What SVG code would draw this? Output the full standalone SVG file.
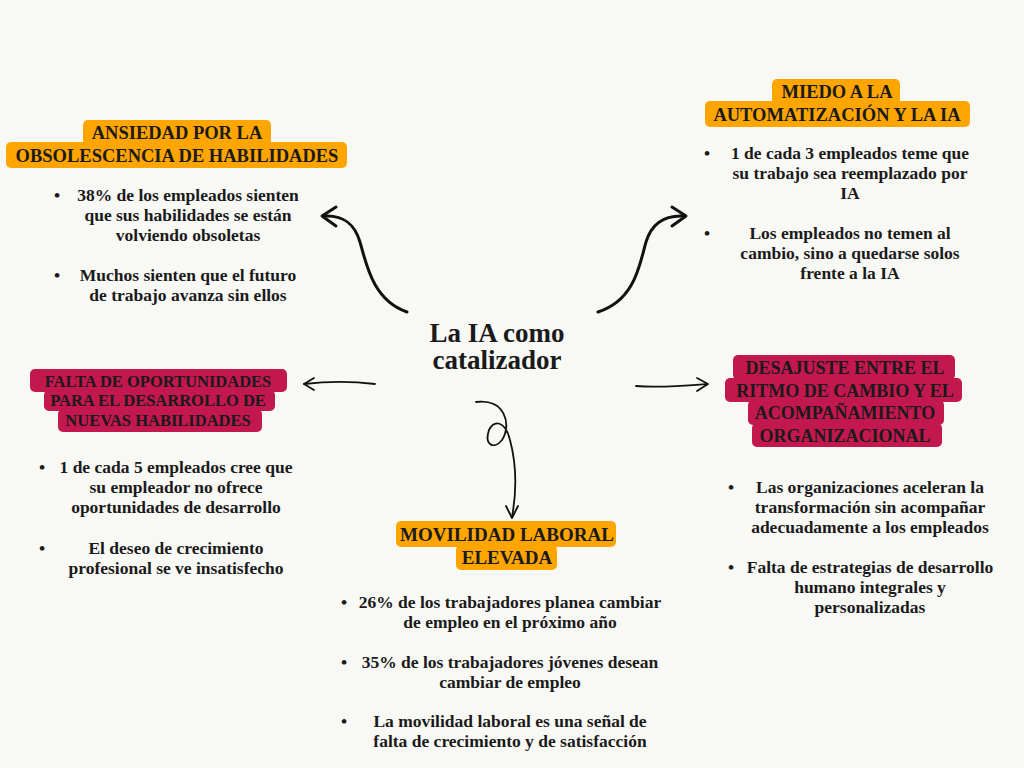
<svg xmlns="http://www.w3.org/2000/svg" width="1024" height="768" viewBox="0 0 1024 768">
<style>
.t{font-family:"Liberation Serif","DejaVu Serif",serif;font-weight:bold;fill:#1a1a1a;text-anchor:middle}
.b{font-size:17.5px}
.h{font-size:18.5px}
.o{fill:#FFA500}
.r{fill:#C2184F}
.c{fill:none;stroke:#111;stroke-width:3;stroke-linecap:round;stroke-linejoin:round}
.c2{fill:none;stroke:#111;stroke-width:1.8;stroke-linecap:round;stroke-linejoin:round}
</style>
<rect width="1024" height="768" fill="#F8F8F5"/>
<g id="connectors">
<path class="c" d="M407,312 C372,300 366,262 360,242 C354,222 342,215 324,216"/>
<path class="c" d="M336,207 L322,216 L336,226"/>
<path class="c" d="M598,312 C636,300 640,262 646,242 C652,222 666,215 684,216"/>
<path class="c" d="M672,207 L686,216 L672,226"/>
<path class="c2" d="M375,384 C350,381 330,381 304,384"/>
<path class="c2" d="M314,378 L304,384 L314,390"/>
<path class="c2" d="M636,386 C660,388 682,386 707,384"/>
<path class="c2" d="M697,378 L708,384 L697,391"/>
<path class="c2" d="M476,402 C505,398 512,425 502,440 C494,450 484,445 489,430 C494,420 505,420 510,440 C518,470 516,495 512,517"/>
<path class="c2" d="M506,506 L512,518 L518,506"/>
</g>
<g id="center"><text class="t" x="497" y="342" font-size="27">La IA como</text><text class="t" x="497" y="369" font-size="27">catalizador</text></g>
<g id="ansiedad">
<rect class="o" x="83" y="120" width="188" height="25" rx="5"/><rect class="o" x="6" y="142" width="341" height="26" rx="5"/>
<text class="t h" x="177" y="139">ANSIEDAD POR LA</text><text class="t h" x="177" y="162">OBSOLESCENCIA DE HABILIDADES</text>
<g class="t b"><text x="57" y="201">•</text><text x="188" y="201">38% de los empleados sienten</text><text x="188" y="221">que sus habilidades se están</text><text x="188" y="241">volviendo obsoletas</text>
<text x="57" y="281">•</text><text x="188" y="281">Muchos sienten que el futuro</text><text x="188" y="301">de trabajo avanza sin ellos</text></g>
</g>
<g id="miedo">
<rect class="o" x="772" y="79" width="128" height="25" rx="5"/><rect class="o" x="705" y="101" width="265" height="26" rx="5"/>
<text class="t h" x="837" y="98">MIEDO A LA</text><text class="t h" x="837" y="121">AUTOMATIZACIÓN Y LA IA</text>
<g class="t b"><text x="707" y="159">•</text><text x="850" y="159">1 de cada 3 empleados teme que</text><text x="850" y="179">su trabajo sea reemplazado por</text><text x="850" y="199">IA</text>
<text x="707" y="239">•</text><text x="850" y="239">Los empleados no temen al</text><text x="850" y="259">cambio, sino a quedarse solos</text><text x="850" y="279">frente a la IA</text></g>
</g>
<g id="falta">
<rect class="r" x="30" y="369" width="257" height="23" rx="5"/><rect class="r" x="44" y="390" width="231" height="21" rx="5"/><rect class="r" x="58" y="409" width="204" height="23" rx="5"/>
<text class="t" font-size="16.5" x="158" y="387">FALTA DE OPORTUNIDADES</text><text class="t" font-size="16.5" x="158" y="406">PARA EL DESARROLLO DE</text><text class="t" font-size="16.5" x="158" y="426">NUEVAS HABILIDADES</text>
<g class="t b"><text x="42" y="473">•</text><text x="176" y="473">1 de cada 5 empleados cree que</text><text x="176" y="493">su empleador no ofrece</text><text x="176" y="513">oportunidades de desarrollo</text>
<text x="42" y="554">•</text><text x="176" y="554">El deseo de crecimiento</text><text x="176" y="574">profesional se ve insatisfecho</text></g>
</g>
<g id="desajuste">
<rect class="r" x="733" y="355" width="222" height="25" rx="5"/><rect class="r" x="725" y="378" width="237" height="24" rx="5"/><rect class="r" x="748" y="400" width="196" height="25" rx="5"/><rect class="r" x="752" y="423" width="190" height="24" rx="5"/>
<text class="t" font-size="18" x="845" y="374">DESAJUSTE ENTRE EL</text><text class="t" font-size="18" x="845" y="397">RITMO DE CAMBIO Y EL</text><text class="t" font-size="18" x="845" y="419">ACOMPAÑAMIENTO</text><text class="t" font-size="18" x="845" y="442">ORGANIZACIONAL</text>
<g class="t b"><text x="731" y="493">•</text><text x="870" y="493">Las organizaciones aceleran la</text><text x="870" y="513">transformación sin acompañar</text><text x="870" y="533">adecuadamente a los empleados</text>
<text x="731" y="573">•</text><text x="870" y="573">Falta de estrategias de desarrollo</text><text x="870" y="593">humano integrales y</text><text x="870" y="613">personalizadas</text></g>
</g>
<g id="movilidad">
<rect class="o" x="396" y="521" width="220" height="26" rx="5"/><rect class="o" x="456" y="545" width="101" height="25" rx="5"/>
<text class="t" font-size="19" x="507" y="541">MOVILIDAD LABORAL</text><text class="t" font-size="19" x="507" y="564">ELEVADA</text>
<g class="t b"><text x="344" y="608">•</text><text x="510" y="608">26% de los trabajadores planea cambiar</text><text x="510" y="628">de empleo en el próximo año</text>
<text x="344" y="668">•</text><text x="510" y="668">35% de los trabajadores jóvenes desean</text><text x="510" y="688">cambiar de empleo</text>
<text x="344" y="727">•</text><text x="510" y="727">La movilidad laboral es una señal de</text><text x="510" y="747">falta de crecimiento y de satisfacción</text></g>
</g>
</svg>
